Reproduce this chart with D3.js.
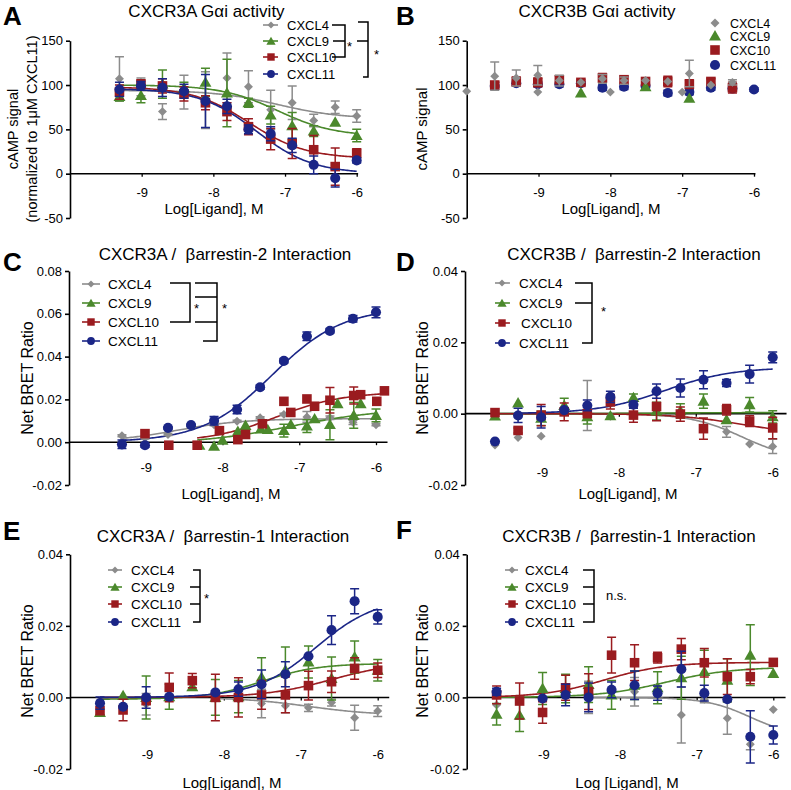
<!DOCTYPE html>
<html><head><meta charset="utf-8">
<script src="https://cdn.jsdelivr.net/npm/d3@7"></script>
<style>body{margin:0;background:#fff}svg{display:block}</style>
</head><body><svg id="c" width="791" height="790"></svg>
<script>
// ================= DATA =================
const seriesNames = ["CXCL4", "CXCL9", "CXCL10", "CXCL11"];
const xTickValues = [-9, -8, -7, -6];
const std12 = [-9.31,-9.01,-8.71,-8.41,-8.11,-7.81,-7.51,-7.2,-6.9,-6.6,-6.3,-6.0];
const std13 = [-9.61,-9.31,-9.01,-8.71,-8.41,-8.11,-7.81,-7.51,-7.2,-6.9,-6.6,-6.3,-6.0];

// ---- Panel A : CXCR3A Gαi activity ----
const A_yTicks = [-50, 0, 50, 100, 150];
const A_CXCL4 = [107,98,70,92,83,108,98,72,80,60,75,65];
const A_CXCL4_err = [25,10,9,19,32,28,18,22,19,7,7,7];
const A_CXCL9 = [87,88,101,97,103,91,80,66,54,48,58,43];
const A_CXCL9_err = [5,8,16,6,16,38,5,10,15,6,0,7];
const A_CXCL10 = [92,101,99,90,80,70,53,39,34,27,8,23];
const A_CXCL10_err = [8,5,8,8,8,10,9,12,17,16,21,5];
const A_CXCL11 = [95,99,97,93,82,76,50,45,32,10,-5,15];
const A_CXCL11_err = [8,5,10,8,30,8,5,8,8,10,10,3];
// fit: [left asymptote, right asymptote, logEC50, hill, from, to]
const A_fit_CXCL4 = [94, 62, -7.1, 1.0, -9.31, -6];
const A_fit_CXCL9 = [100, 42, -7.1, 1.1, -9.31, -6];
const A_fit_CXCL10 = [98, 17, -7.5, 1.1, -9.31, -6];
const A_fit_CXCL11 = [96, 0, -7.4, 1.1, -9.31, -6];

// ---- Panel B : CXCR3B Gαi activity ----
const B_yTicks = [-50, 0, 50, 100, 150];
const B_labels = ["CXCL4", "CXCL9", "CXC10", "CXCL11"];
const B_CXCL4_x = [-10.0,-9.61,-9.31,-9.01,-9.01,-8.71,-8.41,-8.11,-8.0,-7.81,-7.51,-7.2,-7.0,-6.9,-6.6,-6.3];
const B_CXCL4 = [93,110,108,111,92,105,103,107,92,105,105,104,92,113,100,103];
const B_CXCL4_err = [0,16,9,11,0,6,0,5,0,4,0,0,0,15,0,3];
const B_CXCL9_x = [-8.41,-7.51,-6.9];
const B_CXCL9 = [91,98,85];
const B_CXCL9_err = [0,0,0];
const B_CXCL10_x = [-9.61,-9.31,-9.01,-8.71,-8.41,-8.11,-7.81,-7.51,-7.2,-6.9,-6.6,-6.3];
const B_CXCL10 = [100,104,103,106,103,108,106,104,104,101,104,97];
const B_CXCL10_err = [3,5,5,4,3,5,4,3,6,5,3,6];
const B_CXCL11_x = std13;
const B_CXCL11 = [99,102,101,101,102,97,98,99,91,92,97,96,95];
const B_CXCL11_err = [4,3,3,3,2,3,3,3,3,3,3,3,2];

// ---- Panel C : CXCR3A / βarrestin-2 ----
const C_yTicks = [-0.02, 0, 0.02, 0.04, 0.06, 0.08];
const C_CXCL4 = [0.003,0.002,0.0036,0.0075,0.0082,0.0098,0.0114,0.013,0.0118,0.0114,0.0093,0.0082];
const C_CXCL4_err = [0.0005,0.0005,0.0005,0.0005,0.0005,0.0005,0.0005,0.0005,0.0025,0.0008,0.001,0.0005];
const C_CXCL9_x = [-8.3,-8.11,-8.0,-7.8,-7.7,-7.5,-7.41,-7.2,-7.11,-6.9,-6.8,-6.6,-6.5,-6.29,-6.2,-6.0];
const C_CXCL9 = [-0.0015,-0.0019,0.0009,0.0051,0.0078,0.0062,0.0059,0.0054,0.0082,0.0075,0.0109,0.0082,0.018,0.0125,0.018,0.0125];
const C_CXCL9_err = [0,0,0,0,0,0,0,0.003,0,0.003,0,0.007,0,0.006,0,0.003];
const C_CXCL10_x = [-9.01,-8.7,-8.33,-8.04,-7.8,-7.7,-7.48,-7.2,-7.11,-6.9,-6.8,-6.6,-6.29,-6.2,-5.99,-5.89];
const C_CXCL10 = [0.004,-0.0014,-0.0014,0.0054,0.0012,0.0036,0.0086,0.0191,0.0139,0.0202,0.0168,0.0196,0.0218,0.0222,0.0191,0.024];
const C_CXCL10_err = [0,0,0,0.001,0.001,0,0.001,0,0,0,0,0.006,0.004,0,0,0];
const C_CXCL11 = [-0.001,-0.0014,0.0067,0.008,0.010,0.0153,0.0257,0.038,0.0495,0.052,0.0577,0.0607];
const C_CXCL11_err = [0.002,0.001,0.0005,0.0005,0.002,0.002,0.001,0.001,0.002,0.001,0.0015,0.0025];
const C_fit_CXCL4 = [0, 0.011, -8.6, 1.0, -9.31, -6];
const C_fit_CXCL9 = [-0.001, 0.016, -7.1, 0.7, -8.33, -6];
const C_fit_CXCL10 = [0, 0.0235, -7.3, 1.0, -8.33, -5.9];
const C_fit_CXCL11 = [0, 0.063, -7.35, 0.95, -9.31, -6];

// ---- Panel D : CXCR3B / βarrestin-2 ----
const D_yTicks = [-0.02, 0, 0.02, 0.04];
const D_CXCL4_x = [-9.61,-9.31,-9.01,-8.41,-8.11,-7.2,-6.6,-6.3,-6.0];
const D_CXCL4 = [-0.0088,-0.0067,-0.0063,0.0023,-0.0007,0.0002,-0.0051,-0.0085,-0.0092];
const D_CXCL4_err = [0,0,0,0.007,0,0,0.0015,0,0.002];
const D_CXCL9 = [-0.0007,0.003,-0.0013,0.0023,-0.0009,-0.0006,0.0045,0.0007,0.0008,0.0035,-0.0017,0.0025,-0.0009];
const D_CXCL9_err = [0,0,0.002,0.002,0.002,0,0.001,0.0025,0.002,0.002,0,0.002,0.0017];
const D_CXCL10 = [0.0003,-0.0047,-0.0004,0.0005,0,0.0033,-0.0004,0.002,-0.0001,-0.0042,0.0011,-0.0021,-0.004];
const D_CXCL10_err = [0,0.0007,0.003,0.0025,0.0003,0.002,0.002,0.004,0.002,0.003,0.0015,0.0015,0.003];
const D_CXCL11 = [-0.0078,-0.0005,-0.001,0.001,0.0023,0.0047,0.0025,0.0063,0.0072,0.0095,0.0086,0.0111,0.0158];
const D_CXCL11_err = [0,0.002,0.003,0,0.0015,0.0016,0.001,0.002,0.0025,0.0025,0.001,0.0025,0.0015];
const D_fit_CXCL4 = [0, -0.013, -6.4, 1.3, -7.8, -6];
const D_fit_CXCL9 = [0, 0.0003, -7.5, 1.0, -9.61, -6];
const D_fit_CXCL10 = [0, -0.006, -6.4, 1.0, -9.61, -6];
const D_fit_CXCL11 = [0, 0.013, -7.4, 1.0, -9.31, -6];

// ---- Panel E : CXCR3A / βarrestin-1 ----
const E_yTicks = [-0.02, 0, 0.02, 0.04];
const E_CXCL4_x = [-9.01,-8.71,-8.11,-7.81,-7.51,-7.2,-6.9,-6.6,-6.3,-6.0];
const E_CXCL4 = [-0.0019,0,-0.0003,-0.0005,-0.0017,-0.0023,-0.0029,-0.0014,-0.0057,-0.0038];
const E_CXCL4_err = [0.003,0,0,0,0.004,0.002,0.001,0.001,0.0035,0.0015];
const E_CXCL9 = [-0.0042,0.0005,0,0.0002,0.003,0,0.0002,0.0056,0.0076,0.0099,0.0053,0.0113,0.0076];
const E_CXCL9_err = [0,0,0.006,0.0035,0,0.005,0.0045,0.0055,0.0065,0.0045,0.006,0.0045,0.003];
const E_CXCL10 = [-0.0037,-0.0035,-0.0009,0.0028,0.0047,0,0,0.0007,0.0007,0.0033,0.0044,0.0081,0.0076];
const E_CXCL10_err = [0,0.003,0,0.004,0.002,0.0065,0.0055,0.004,0.005,0.004,0.003,0.003,0.002];
const E_CXCL11_x = [-9.61,-9.31,-9.01,-8.71,-8.11,-7.81,-7.51,-7.2,-6.9,-6.6,-6.3,-6.0];
const E_CXCL11 = [-0.0016,-0.0026,0.0,0.0002,0.0014,0.0023,0.0037,0.0065,0.0115,0.0188,0.0269,0.0225];
const E_CXCL11_err = [0.0017,0,0.003,0.0005,0.0005,0.002,0.004,0.0035,0,0.004,0.0035,0.002];
const E_fit_CXCL4 = [0, -0.005, -6.9, 1.0, -8.1, -6];
const E_fit_CXCL9 = [-0.0005, 0.0095, -7.5, 1.2, -9.61, -6];
const E_fit_CXCL10 = [0, 0.010, -6.6, 1.0, -9.61, -6];
const E_fit_CXCL11 = [0, 0.028, -6.8, 1.1, -9.61, -6];

// ---- Panel F : CXCR3B / βarrestin-1 ----
const F_yTicks = [-0.02, 0, 0.02, 0.04];
const F_CXCL4_x = [-9.61,-9.01,-8.41,-7.81,-7.51,-7.2,-6.9,-6.6,-6.3,-6.0];
const F_CXCL4 = [-0.0021,0,0,0.0016,0.003,-0.0049,-0.0005,-0.0058,-0.0131,-0.0034];
const F_CXCL4_err = [0,0,0.0045,0.004,0,0.0078,0.001,0.0045,0.0015,0];
const F_CXCL9 = [-0.0047,-0.005,0.0025,0.0025,0.0036,0.0007,0.0034,0.0027,0.0055,0.0072,0.0048,0.0118,0.0067];
const F_CXCL9_err = [0.003,0.0045,0.0045,0.004,0.005,0.004,0.004,0.0045,0.006,0.006,0.006,0.0085,0];
const F_CXCL10 = [0.0007,-0.001,-0.0042,0.0027,0.0016,0.0118,0.0097,0.0111,0.0135,0.0097,0.0058,0.0058,0.0098];
const F_CXCL10_err = [0.0025,0.005,0.003,0.0035,0.005,0.005,0.005,0.0015,0.003,0.004,0.005,0.002,0];
const F_CXCL11_x = [-9.61,-9.01,-8.71,-8.41,-8.11,-7.81,-7.51,-7.2,-6.9,-6.6,-6.3,-6.0];
const F_CXCL11 = [0.0016,-0.0003,0.0007,0.0,0.0021,0.0034,0.0012,0.0079,0.0012,-0.0005,-0.011,-0.0105];
const F_CXCL11_err = [0.001,0,0.003,0.004,0.0022,0.004,0.002,0.005,0.0022,0,0.0073,0.0025];
const F_fit_CXCL4 = [0, -0.011, -6.3, 1.5, -8.41, -6];
const F_fit_CXCL9 = [0, 0.0085, -7.4, 1.0, -9.61, -6];
const F_fit_CXCL10 = [0, 0.0098, -8.2, 1.1, -9.61, -6];

// ================= STYLE =================
const FONT = '"Liberation Sans", Arial, Helvetica, sans-serif';
const COLORS = {CXCL4: "#8c8c8c", CXCL9: "#4b892c", CXCL10: "#9a1b1f", CXCL11: "#1b2687"};
const SHAPES = {CXCL4: "diamond", CXCL9: "triangle", CXCL10: "square", CXCL11: "circle"};

const svg = d3.select("#c");
svg.append("rect").attr("width", 791).attr("height", 790).attr("fill", "#fff");

function markerPath(shape, big) {
  const k = big ? 1 : 0.6;
  if (shape === "circle") return d3.symbol(d3.symbolCircle, 80 * k)();
  if (shape === "square") return d3.symbol(d3.symbolSquare, 92 * k)();
  if (shape === "triangle") return d3.symbol(d3.symbolTriangle, 62 * k)();
  return d3.symbol(d3.symbolSquare, 40 * k)();
}
function drawMarker(g, name, cx, cy, big) {
  const shape = SHAPES[name];
  g.append("path").attr("d", markerPath(shape, big))
    .attr("transform", `translate(${cx},${cy})` + (shape === "diamond" ? " rotate(45)" : "") + (shape === "triangle" ? " translate(0,1)" : ""))
    .attr("fill", COLORS[name]);
}
function fit4(p, xv) { return p[0] + (p[1] - p[0]) / (1 + Math.pow(10, (p[2] - xv) * p[3])); }

function drawPanel(P) {
  const g = svg.append("g");
  const x = d3.scaleLinear().domain([-10, -6]).range([P.x0, P.x6]);
  const y = d3.scaleLinear().domain([P.yTicks[0], P.yTicks[P.yTicks.length - 1]]).range([P.yBot, P.yTop]);

  // y axis
  const ya = g.append("g").attr("transform", `translate(${P.x0},0)`)
    .call(d3.axisLeft(y).tickValues(P.yTicks).tickSize(4).tickSizeOuter(0).tickPadding(3).tickFormat(P.yFmt));
  ya.attr("font-size", 13).attr("font-family", FONT);
  ya.selectAll("path,line").attr("stroke", "#000").attr("stroke-width", 1.6);
  ya.selectAll("text").attr("fill", "#000");

  // x axis at y=0
  const y0 = y(0);
  const xa = g.append("g").attr("transform", `translate(0,${y0})`)
    .call(d3.axisBottom(x).tickValues(xTickValues).tickSize(3).tickSizeOuter(0).tickFormat(d => String(d)));
  xa.attr("font-size", 13).attr("font-family", FONT);
  xa.select(".domain").remove();
  xa.append("line").attr("x1", P.x0).attr("x2", x(P.xEnd)).attr("stroke", "#000").attr("stroke-width", 1.6);
  xa.selectAll(".tick line").attr("stroke", "#000").attr("stroke-width", 1.3);
  xa.selectAll(".tick text").attr("y", P.xLabY - y0).attr("dy", 0).attr("fill", "#000");

  // titles
  g.append("text").attr("x", P.xTitleX).attr("y", P.xTitleY).attr("text-anchor", "middle")
    .attr("font-family", FONT).attr("font-size", 15).text(P.xTitle);
  P.yLabels.forEach(([t, bx]) => {
    g.append("text").attr("transform", `translate(${bx},${P.yLabelCy}) rotate(-90)`).attr("text-anchor", "middle")
      .attr("font-family", FONT).attr("font-size", P.yLabelFs).text(t);
  });
  g.append("text").attr("x", P.titleX).attr("y", P.titleY).attr("text-anchor", "middle")
    .attr("font-family", FONT).attr("font-size", 17).style("white-space", "pre").text(P.title);
  g.append("text").attr("x", P.letterX).attr("y", P.letterY)
    .attr("font-family", FONT).attr("font-size", 26).attr("font-weight", "bold").text(P.letter);

  // fitted curves
  const line = d3.line().x(d => x(d[0])).y(d => y(d[1]));
  P.order.forEach(name => {
    const p = P.fits[name];
    if (!p) return;
    const pts = d3.range(p[4], p[5] + 1e-9, 0.02).map(v => [v, fit4(p, v)]);
    pts.push([p[5], fit4(p, p[5])]);
    g.append("path").attr("d", line(pts)).attr("fill", "none")
      .attr("stroke", COLORS[name]).attr("stroke-width", 1.6);
  });

  // data points with error bars
  P.order.forEach(name => {
    const s = P.series[name];
    if (!s) return;
    const col = COLORS[name];
    s.x.forEach((xv, i) => {
      const e = s.err[i];
      if (e > 0) {
        const cx = x(xv), yt = y(s.y[i] + e), yb = y(s.y[i] - e);
        g.append("path").attr("d", `M${cx},${yt}V${yb}M${cx - 4.5},${yt}H${cx + 4.5}M${cx - 4.5},${yb}H${cx + 4.5}`)
          .attr("stroke", col).attr("stroke-width", 1.5).attr("fill", "none");
      }
    });
    s.x.forEach((xv, i) => drawMarker(g, name, x(xv), y(s.y[i]), true));
  });

  // legend
  const L = P.legend;
  L.ys.forEach((ly, i) => {
    const name = seriesNames[i];
    if (L.lines) {
      g.append("line").attr("x1", L.l1).attr("x2", L.l2).attr("y1", ly).attr("y2", ly)
        .attr("stroke", COLORS[name]).attr("stroke-width", 1.6);
      drawMarker(g, name, L.mx, ly, false);
    } else {
      drawMarker(g, name, L.mx, ly, true);
    }
    const tx = L.tx + ((L.txOff && L.txOff[i]) || 0);
    g.append("text").attr("x", tx).attr("y", ly).attr("dy", "0.36em")
      .attr("font-family", FONT).attr("font-size", L.fs).text(L.labels ? L.labels[i] : name);
  });
  if (P.brackets) {
    g.append("path").attr("d", P.brackets).attr("fill", "none").attr("stroke", "#000").attr("stroke-width", 1.5);
  }
  (P.marks || []).forEach(([t, mx, my]) => {
    g.append("text").attr("x", mx).attr("y", my).attr("font-family", FONT).attr("font-size", 13).text(t);
  });
}

function mk(xs, ys, es) { return {x: xs, y: ys, err: es}; }
const legendOrder = ["CXCL4", "CXCL9", "CXCL10", "CXCL11"];
const fmtInt = d => String(d);
const fmt2 = d => d.toFixed(2);

// Panel A
drawPanel({
  x0: 70, x6: 356.7, xEnd: -5.98, yTicks: A_yTicks, yBot: 218, yTop: 40.7, yFmt: fmtInt,
  xLabY: 197.5, xTitle: "Log[Ligand], M", xTitleX: 214, xTitleY: 213.5,
  yLabels: [["cAMP signal", 18], ["(normalized to 1μM CXCL11)", 37]], yLabelFs: 14.5, yLabelCy: 129,
  title: "CXCR3A Gαi activity", titleX: 206.5, titleY: 17, letter: "A", letterX: 3, letterY: 25,
  order: legendOrder,
  series: {CXCL4: mk(std12, A_CXCL4, A_CXCL4_err), CXCL9: mk(std12, A_CXCL9, A_CXCL9_err),
           CXCL10: mk(std12, A_CXCL10, A_CXCL10_err), CXCL11: mk(std12, A_CXCL11, A_CXCL11_err)},
  fits: {CXCL4: A_fit_CXCL4, CXCL9: A_fit_CXCL9, CXCL10: A_fit_CXCL10, CXCL11: A_fit_CXCL11},
  legend: {lines: true, l1: 263, l2: 278, mx: 271, tx: 287, ys: [25, 41, 57, 74], fs: 13},
  brackets: "M332,25H345V57H332M333,41H345M357,41H368M358,22H368V77H363",
  marks: [["*", 347, 51], ["*", 374, 59]]
});

// Panel B
drawPanel({
  x0: 466.7, x6: 754, xEnd: -5.98, yTicks: B_yTicks, yBot: 218, yTop: 40.7, yFmt: fmtInt,
  xLabY: 197.5, xTitle: "Log[Ligand], M", xTitleX: 611, xTitleY: 213.5,
  yLabels: [["cAMP signal", 427]], yLabelFs: 15, yLabelCy: 129,
  title: "CXCR3B Gαi activity", titleX: 597, titleY: 17, letter: "B", letterX: 396, letterY: 25,
  order: ["CXCL11", "CXCL10", "CXCL9", "CXCL4"],
  series: {CXCL4: mk(B_CXCL4_x, B_CXCL4, B_CXCL4_err), CXCL9: mk(B_CXCL9_x, B_CXCL9, B_CXCL9_err),
           CXCL10: mk(B_CXCL10_x, B_CXCL10, B_CXCL10_err), CXCL11: mk(B_CXCL11_x, B_CXCL11, B_CXCL11_err)},
  fits: {},
  legend: {lines: false, mx: 715, tx: 730, ys: [23, 36, 50, 65], fs: 12.5, labels: B_labels}
});

// Panel C
drawPanel({
  x0: 69, x6: 376, xEnd: -5.85, yTicks: C_yTicks, yBot: 485, yTop: 271, yFmt: fmt2,
  xLabY: 472.5, xTitle: "Log[Ligand], M", xTitleX: 231, xTitleY: 498.5,
  yLabels: [["Net BRET Ratio", 32.6]], yLabelFs: 16, yLabelCy: 378,
  title: "CXCR3A /  βarrestin-2 Interaction", titleX: 225, titleY: 260, letter: "C", letterX: 3, letterY: 271,
  order: legendOrder,
  series: {CXCL4: mk(std12, C_CXCL4, C_CXCL4_err), CXCL9: mk(C_CXCL9_x, C_CXCL9, C_CXCL9_err),
           CXCL10: mk(C_CXCL10_x, C_CXCL10, C_CXCL10_err), CXCL11: mk(std12, C_CXCL11, C_CXCL11_err)},
  fits: {CXCL4: C_fit_CXCL4, CXCL9: C_fit_CXCL9, CXCL10: C_fit_CXCL10, CXCL11: C_fit_CXCL11},
  legend: {lines: true, l1: 82, l2: 100, mx: 91, tx: 108, ys: [284, 303, 322, 341], fs: 13.5},
  brackets: "M170,283H190V322H170M195,283H217V341H203M195,297H217M195,322H217",
  marks: [["*", 194, 313], ["*", 222, 313]]
});

// Panel D
drawPanel({
  x0: 465, x6: 772.7, xEnd: -5.82, yTicks: D_yTicks, yBot: 485, yTop: 271, yFmt: fmt2,
  xLabY: 477.5, xTitle: "Log[Ligand], M", xTitleX: 628, xTitleY: 498.5,
  yLabels: [["Net BRET Ratio", 428]], yLabelFs: 16, yLabelCy: 378,
  title: "CXCR3B /  βarrestin-2 Interaction", titleX: 634, titleY: 260, letter: "D", letterX: 396, letterY: 271,
  order: legendOrder,
  series: {CXCL4: mk(D_CXCL4_x, D_CXCL4, D_CXCL4_err), CXCL9: mk(std13, D_CXCL9, D_CXCL9_err),
           CXCL10: mk(std13, D_CXCL10, D_CXCL10_err), CXCL11: mk(std13, D_CXCL11, D_CXCL11_err)},
  fits: {CXCL4: D_fit_CXCL4, CXCL9: D_fit_CXCL9, CXCL10: D_fit_CXCL10, CXCL11: D_fit_CXCL11},
  legend: {lines: true, l1: 495, l2: 510, mx: 502, tx: 519, txOff: [0, 0, 2, 0], ys: [283, 303, 323, 343], fs: 13.5},
  brackets: "M575,283H592V343H582M575,303H592",
  marks: [["*", 601, 316]]
});

// Panel E
drawPanel({
  x0: 70, x6: 377.7, xEnd: -5.85, yTicks: E_yTicks, yBot: 769, yTop: 554.3, yFmt: fmt2,
  xLabY: 759.5, xTitle: "Log[Ligand], M", xTitleX: 232, xTitleY: 787.5,
  yLabels: [["Net BRET Ratio", 32.6]], yLabelFs: 16, yLabelCy: 661,
  title: "CXCR3A /  βarrestin-1 Interaction", titleX: 223, titleY: 542, letter: "E", letterX: 3, letterY: 540,
  order: legendOrder,
  series: {CXCL4: mk(E_CXCL4_x, E_CXCL4, E_CXCL4_err), CXCL9: mk(std13, E_CXCL9, E_CXCL9_err),
           CXCL10: mk(std13, E_CXCL10, E_CXCL10_err), CXCL11: mk(E_CXCL11_x, E_CXCL11, E_CXCL11_err)},
  fits: {CXCL4: E_fit_CXCL4, CXCL9: E_fit_CXCL9, CXCL10: E_fit_CXCL10, CXCL11: E_fit_CXCL11},
  legend: {lines: true, l1: 108, l2: 122, mx: 115, tx: 131, ys: [570, 587, 604, 622], fs: 13.5},
  brackets: "M193,570H200V622H193M190,587H200M190,604H200",
  marks: [["*", 204, 603]]
});

// Panel F
drawPanel({
  x0: 466.7, x6: 773.3, xEnd: -5.84, yTicks: F_yTicks, yBot: 769, yTop: 554.3, yFmt: fmt2,
  xLabY: 759.5, xTitle: "Log [Ligand], M", xTitleX: 627, xTitleY: 787.5,
  yLabels: [["Net BRET Ratio", 428]], yLabelFs: 16, yLabelCy: 661,
  title: "CXCR3B /  βarrestin-1 Interaction", titleX: 629, titleY: 542, letter: "F", letterX: 396, letterY: 539,
  order: legendOrder,
  series: {CXCL4: mk(F_CXCL4_x, F_CXCL4, F_CXCL4_err), CXCL9: mk(std13, F_CXCL9, F_CXCL9_err),
           CXCL10: mk(std13, F_CXCL10, F_CXCL10_err), CXCL11: mk(F_CXCL11_x, F_CXCL11, F_CXCL11_err)},
  fits: {CXCL4: F_fit_CXCL4, CXCL9: F_fit_CXCL9, CXCL10: F_fit_CXCL10},
  legend: {lines: true, l1: 505, l2: 518, mx: 512, tx: 525, ys: [570, 587, 604, 622], fs: 13.5},
  brackets: "M583,570H594V622H583M583,587H594M583,604H594",
  marks: [["n.s.", 606, 600]]
});
</script></body></html>
